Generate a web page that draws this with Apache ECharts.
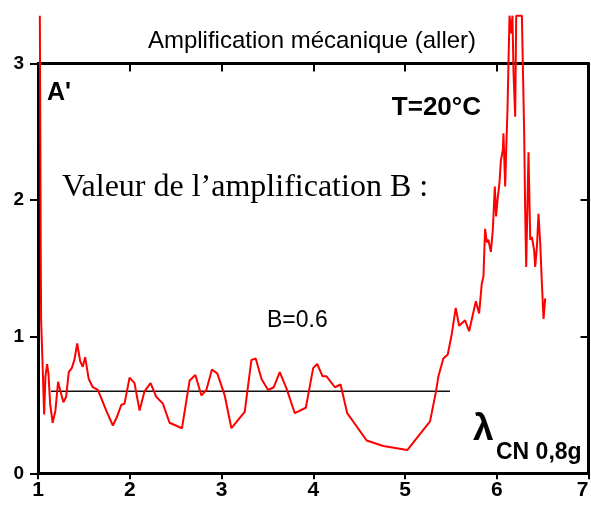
<!DOCTYPE html>
<html><head><meta charset="utf-8">
<script src="https://cdn.jsdelivr.net/npm/echarts/dist/echarts.min.js"></script>
<style>html,body{margin:0;padding:0;background:#fff;overflow:hidden}#c{width:591px;height:505px}</style>
</head><body><div id="c"></div>
<script>
// λ_CN values (x) and mechanical amplification (y)
const lambdaCN = [1.02,1.025,1.03,1.034,1.045,1.067,1.081,1.099,1.114,1.132,1.160,1.190,1.219,1.241,1.277,1.307,1.335,1.368,1.397,1.427,1.460,1.488,1.514,1.553,1.597,1.652,1.689,1.743,1.816,1.859,1.907,1.943,1.998,2.052,2.107,2.161,2.227,2.289,2.361,2.434,2.569,2.653,2.715,2.781,2.835,2.896,2.955,3.035,3.108,3.253,3.326,3.373,3.436,3.508,3.570,3.635,3.709,3.799,3.919,3.999,4.043,4.102,4.145,4.236,4.298,4.370,4.582,4.763,5.025,5.273,5.338,5.364,5.418,5.466,5.510,5.553,5.590,5.655,5.699,5.772,5.808,5.837,5.855,5.873,5.892,5.909,5.936,5.957,5.979,5.993,6.008,6.029,6.045,6.067,6.073,6.092,6.103,6.117,6.139,6.157,6.171,6.183,6.201,6.212,6.226,6.248,6.274,6.299,6.310,6.321,6.346,6.365,6.383,6.408,6.419,6.438,6.455,6.474,6.492,6.510,6.528];
const amplification = [3.35,2.5,1.6,1.12,0.90,0.43,0.71,0.80,0.73,0.51,0.37,0.46,0.67,0.61,0.52,0.56,0.74,0.77,0.83,0.95,0.82,0.78,0.85,0.69,0.63,0.61,0.55,0.46,0.35,0.41,0.50,0.51,0.70,0.66,0.46,0.60,0.66,0.56,0.51,0.37,0.33,0.68,0.72,0.57,0.61,0.76,0.73,0.57,0.33,0.45,0.83,0.84,0.69,0.61,0.63,0.74,0.62,0.44,0.48,0.77,0.80,0.71,0.71,0.63,0.65,0.44,0.24,0.20,0.17,0.38,0.60,0.71,0.84,0.87,1.02,1.21,1.08,1.12,1.04,1.26,1.17,1.39,1.44,1.79,1.69,1.71,1.62,1.78,2.10,1.88,2.00,2.12,2.29,2.37,2.49,2.10,2.37,2.66,3.35,3.22,3.35,2.93,2.61,3.35,3.35,3.35,3.35,2.49,1.91,1.51,2.35,1.71,1.73,1.63,1.51,1.66,1.90,1.68,1.39,1.13,1.28];
// Reference line B = 0.6
const bLineX = [1.14, 5.49];
const bLineY = [0.6, 0.6];
const xTicks = [1, 2, 3, 4, 5, 6, 7];
const yTicks = [0, 1, 2, 3];

const SANS = "'Liberation Sans', Arial, sans-serif";
const SERIF = "'Liberation Serif', 'Times New Roman', serif";
const axisLine = {onZero:false, lineStyle:{color:'#000', width:3}};

const chart = echarts.init(document.getElementById('c'), null, {renderer:'canvas'});
chart.setOption({
  animation:false,
  backgroundColor:'#fff',
  grid:{left:38, right:2.5, top:63.5, bottom:31.7, containLabel:false, outerBoundsMode:'none'},
  xAxis:[
    {type:'value', min:xTicks[0], max:xTicks[xTicks.length-1], interval:1, position:'bottom',
     axisLine:axisLine, axisTick:{inside:false, length:6, lineStyle:{color:'#000', width:2}},
     axisLabel:{color:'#000', fontWeight:'bold', fontSize:21, fontFamily:SANS, margin:6, alignMaxLabel:'right'},
     splitLine:{show:false}},
    {type:'value', min:xTicks[0], max:xTicks[xTicks.length-1], interval:1, position:'top',
     axisLine:axisLine, axisTick:{inside:true, length:8, lineStyle:{color:'#000', width:2}},
     axisLabel:{show:false}, splitLine:{show:false}}
  ],
  yAxis:[
    {type:'value', min:yTicks[0], max:yTicks[yTicks.length-1], interval:1, position:'left',
     axisLine:axisLine, axisTick:{inside:false, length:8, lineStyle:{color:'#000', width:2}},
     axisLabel:{color:'#000', fontWeight:'bold', fontSize:19, fontFamily:SANS, margin:14},
     splitLine:{show:false}},
    {type:'value', min:yTicks[0], max:yTicks[yTicks.length-1], interval:1, position:'right',
     axisLine:axisLine, axisTick:{inside:true, length:8, lineStyle:{color:'#000', width:2}},
     axisLabel:{show:false}, splitLine:{show:false}}
  ],
  series:[
    {type:'line', xAxisIndex:0, yAxisIndex:0, symbol:'none', clip:false,
     data:lambdaCN.map((x,i)=>[x, amplification[i]]),
     lineStyle:{color:'#ff0000', width:2}, z:3},
    {type:'line', xAxisIndex:0, yAxisIndex:0, symbol:'none',
     data:bLineX.map((x,i)=>[x, bLineY[i]]),
     lineStyle:{color:'#111', width:1.5}, z:2}
  ],
  graphic:[
    {type:'text', x:312, y:41, style:{text:'Amplification mécanique (aller)', font:'24px '+SANS, fill:'#000', align:'center', verticalAlign:'middle'}},
    {type:'text', x:47, y:93, style:{text:"A'", font:'bold 25px '+SANS, fill:'#000', align:'left', verticalAlign:'middle'}},
    {type:'text', x:481, y:108, style:{text:'T=20°C', font:'bold 26px '+SANS, fill:'#000', align:'right', verticalAlign:'middle'}},
    {type:'text', x:62, y:188, style:{text:'Valeur de l’amplification B :', font:'32px '+SERIF, fill:'#000', align:'left', verticalAlign:'middle'}},
    {type:'text', x:267, y:321, style:{text:'B=0.6', font:'23px '+SANS, fill:'#000', align:'left', verticalAlign:'middle'}},
    {type:'text', x:473, y:430, style:{text:'λ', font:'bold 37px '+SANS, fill:'#000', align:'left', verticalAlign:'middle'}},
    {type:'text', x:496, y:453, style:{text:'CN 0,8g', font:'bold 23px '+SANS, fill:'#000', align:'left', verticalAlign:'middle'}}
  ]
});
</script>
</body></html>
